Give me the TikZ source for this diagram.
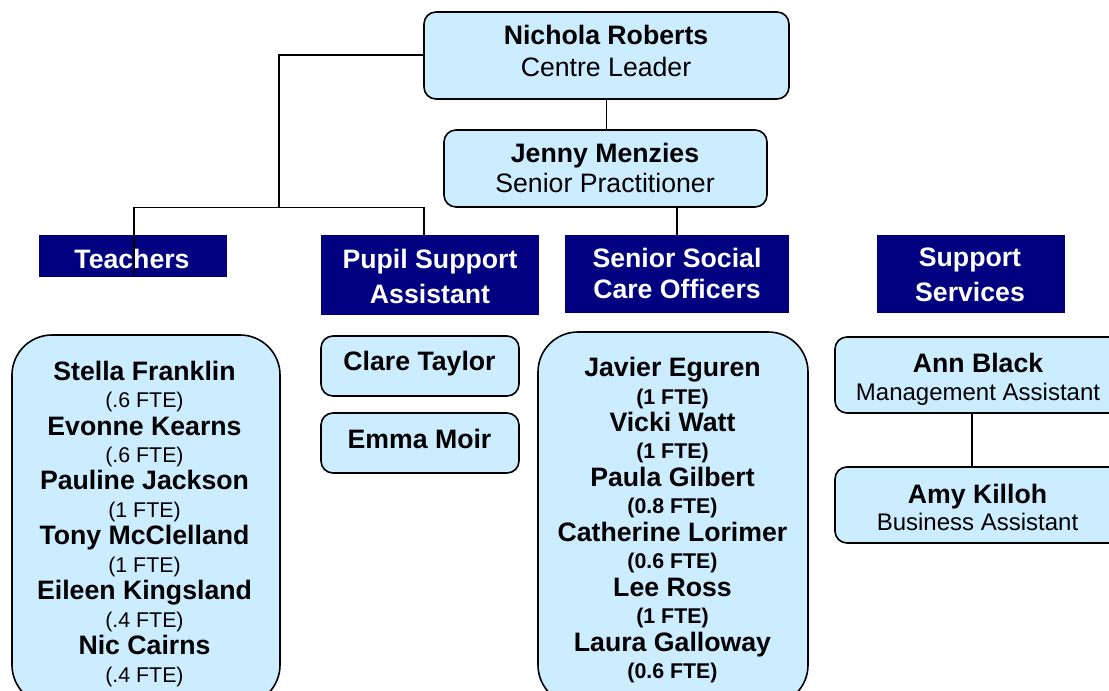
\documentclass[tikz,border=0pt]{standalone}
\usepackage{fontspec}
\setmainfont{Liberation Sans}
\usetikzlibrary{calc}
\definecolor{boxblue}{RGB}{204,236,255}
\definecolor{navyhead}{RGB}{0,0,128}
\tikzset{
  px/.style 2 args={minimum width=#1*0.75pt, minimum height=#2*0.75pt},
  personbox/.style={draw=black, line width=1.2pt, fill=boxblue, rounded corners=9pt, inner sep=0pt},
  teambox/.style={personbox, rounded corners=30pt},
  headbox/.style={fill=navyhead, inner sep=0pt},
  txt/.style={anchor=north, inner sep=0pt, align=center, text=black},
  headtxt/.style={anchor=north, inner sep=0pt, align=center, text=white, font=\bfseries},
  link/.style={draw=black, line width=1.2pt},
}
\newcommand{\fte}[1]{{\fontsize{16}{20.6}\selectfont #1}}
\begin{document}
\begin{tikzpicture}[x=0.75pt,y=-0.75pt]
\clip (0,0) rectangle (1109,691);
\useasboundingbox (0,0) rectangle (1109,691);

% management
\node[personbox, px={365}{87}] (nichola) at (606.5,55.5) {};
\node[txt, font=\fontsize{20}{24}\selectfont] (nicholaT) at (606,24.5) {\textbf{Nichola Roberts}\\Centre Leader};
\node[personbox, px={323}{77}] (jenny) at (605.5,168.5) {};
\node[txt, font=\fontsize{20}{22.3}\selectfont] (jennyT) at (605,143) {\textbf{Jenny Menzies}\\Senior Practitioner};

% headers
\node[headbox, px={188}{42}] (teach) at (133,256) {};
\node[headtxt, font=\bfseries\fontsize{20}{24}\selectfont] (teachT) at (132,249) {Teachers};
\node[headbox, px={218}{80}] (psa) at (430,275) {};
\node[headtxt, font=\bfseries\fontsize{20}{26.5}\selectfont] (psaT) at (430,249) {Pupil Support\\Assistant};
\node[headbox, px={224}{78}] (ssco) at (677,274) {};
\node[headtxt, font=\bfseries\fontsize{20}{23.5}\selectfont] (sscoT) at (677,248) {Senior Social\\Care Officers};
\node[headbox, px={188}{78}] (supp) at (971,274) {};
\node[headtxt, font=\bfseries\fontsize{20}{26.2}\selectfont] (suppT) at (970,248) {Support\\Services};

% teachers team
\node[teambox, px={268}{370}] (teachteam) at (146,520) {};
\node[txt, font=\fontsize{20}{20.6}\selectfont] (teachteamT) at (144.5,360.5) {%
\textbf{Stella Franklin}\\\fte{(.6 FTE)}\\
\textbf{Evonne Kearns}\\\fte{(.6 FTE)}\\
\textbf{Pauline Jackson}\\\fte{(1 FTE)}\\
\textbf{Tony McClelland}\\\fte{(1 FTE)}\\
\textbf{Eileen Kingsland}\\\fte{(.4 FTE)}\\
\textbf{Nic Cairns}\\\fte{(.4 FTE)}};

% pupil support assistants
\node[personbox, px={198}{60}] (clare) at (420,366) {};
\node[txt, font=\bfseries\fontsize{20}{24}\selectfont] (clareT) at (419.5,351) {Clare Taylor};
\node[personbox, px={198}{60}] (emma) at (420,443) {};
\node[txt, font=\bfseries\fontsize{20}{24}\selectfont] (emmaT) at (419.5,429) {Emma Moir};

% social care team
\node[teambox, px={270}{373}] (sscoteam) at (673,518.5) {};
\node[txt, font=\fontsize{20}{20.6}\selectfont] (sscoteamT) at (672.5,357) {%
\textbf{Javier Eguren}\\\fte{\textbf{(1 FTE)}}\\
\textbf{Vicki Watt}\\\fte{\textbf{(1 FTE)}}\\
\textbf{Paula Gilbert}\\\fte{\textbf{(0.8 FTE)}}\\
\textbf{Catherine Lorimer}\\\fte{\textbf{(0.6 FTE)}}\\
\textbf{Lee Ross}\\\fte{\textbf{(1 FTE)}}\\
\textbf{Laura Galloway}\\\fte{\textbf{(0.6 FTE)}}};

% support services
\node[personbox, px={286}{76}] (ann) at (978,375) {};
\node[txt, font=\fontsize{18}{21}\selectfont] (annT) at (978,353) {{\fontsize{20}{21}\selectfont\textbf{Ann Black}}\\Management Assistant};
\node[personbox, px={286}{76}] (amy) at (978,505) {};
\node[txt, font=\fontsize{18}{20.7}\selectfont] (amyT) at (977.5,483.5) {{\fontsize{20}{20.7}\selectfont\textbf{Amy Killoh}}\\Business Assistant};

% connectors
\coordinate (split) at (279,207.5);
\coordinate (teachend) at (134,275);
\coordinate (psatop) at ($(psa.north)+(-6,0)$);
\draw[link] (nichola.south) -- (nichola.south |- jenny.north);
\draw[link] (nichola.west |- 0,55) -| (split);
\draw[link] (split) -| (teachend);
\draw[link] (split) -| (psatop);
\draw[link] (ssco.north |- jenny.south) -- (ssco.north);
\draw[link] ($(ann.south)+(-6,0)$) -- ($(amy.north)+(-6,0)$);
\end{tikzpicture}
\end{document}
